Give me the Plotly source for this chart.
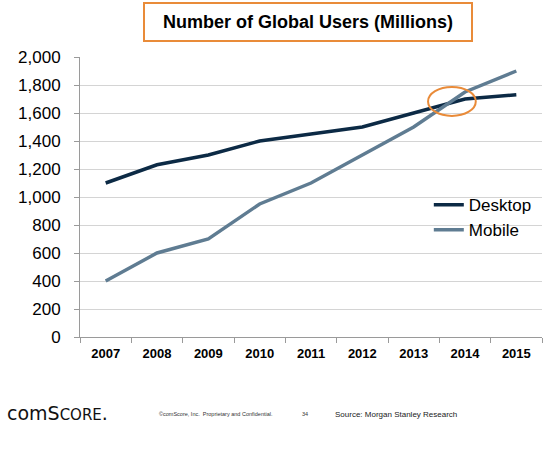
import plotly.graph_objects as go

years = ["2007", "2008", "2009", "2010", "2011", "2012", "2013", "2014", "2015"]
desktop = [1100, 1230, 1300, 1400, 1450, 1500, 1600, 1700, 1730]
mobile = [400, 600, 700, 950, 1100, 1300, 1500, 1750, 1900]
y_ticks = [0, 200, 400, 600, 800, 1000, 1200, 1400, 1600, 1800, 2000]

fig = go.Figure()
fig.add_trace(go.Scatter(x=years, y=desktop, name="Desktop", mode="lines",
                         line=dict(color="#0c2a45", width=3.5)))
fig.add_trace(go.Scatter(x=years, y=mobile, name="Mobile", mode="lines",
                         line=dict(color="#5f7c92", width=3.5)))

# highlight crossover
fig.add_shape(type="circle", xref="x", yref="y", x0=6.28, x1=7.21, y0=1579, y1=1786,
              line=dict(color="#E98B39", width=2))

fig.update_layout(
    width=550, height=468,
    margin=dict(l=80, r=8, t=57, b=131),
    paper_bgcolor="white", plot_bgcolor="white",
    font=dict(family="Liberation Sans, Arial, sans-serif", color="black"),
    showlegend=True,
    legend=dict(x=0.755, y=0.535, xanchor="left", yanchor="top",
                font=dict(size=17, color="black"), bgcolor="rgba(0,0,0,0)",
                tracegroupgap=0, itemwidth=30),
    xaxis=dict(type="category", showgrid=False, showline=True, linecolor="#9a9a9a",
               linewidth=1, ticks="outside", tickson="boundaries", ticklen=5,
               tickcolor="#9a9a9a", tickfont=dict(size=13, color="black", weight="bold"),
               ticklabelstandoff=4, range=[-0.5, 8.5]),
    yaxis=dict(range=[0, 2000], tickvals=y_ticks, tickformat=",d",
               showgrid=True, gridcolor="#d4d4d4", gridwidth=1,
               showline=True, linecolor="#9a9a9a", linewidth=1,
               ticks="outside", ticklen=5, tickcolor="#9a9a9a",
               tickfont=dict(size=17, color="black"), ticklabelstandoff=10,
               zeroline=False),
)

# title box
fig.add_annotation(xref="paper", yref="paper", x=(308 - 80) / 462, y=1 + 35 / 280,
                   xanchor="center", yanchor="middle",
                   text="<b>Number of Global Users (Millions)</b>", showarrow=False,
                   font=dict(size=18, color="black"),
                   bgcolor="white", bordercolor="#E98B39", borderwidth=2,
                   width=324, height=34, borderpad=1)

# footer
fig.add_annotation(xref="paper", yref="paper", x=(5 - 80) / 462, y=(337 - 413) / 280,
                   xanchor="left", yanchor="middle", showarrow=False,
                   text="comS<span style='font-size:15px'>CORE</span>.",
                   font=dict(size=19, color="#111111", family="DejaVu Sans"))
fig.add_annotation(xref="paper", yref="paper", x=(157 - 80) / 462, y=(337 - 414) / 280,
                   xanchor="left", yanchor="middle", showarrow=False,
                   text="©comScore, Inc.  Proprietary and Confidential.",
                   font=dict(size=5.5, color="#333333"))
fig.add_annotation(xref="paper", yref="paper", x=(305 - 80) / 462, y=(337 - 414) / 280,
                   xanchor="center", yanchor="middle", showarrow=False,
                   text="34", font=dict(size=5.5, color="#333333"))
fig.add_annotation(xref="paper", yref="paper", x=(333 - 80) / 462, y=(337 - 414) / 280,
                   xanchor="left", yanchor="middle", showarrow=False,
                   text="Source: Morgan Stanley Research",
                   font=dict(size=8, color="#222222"))

fig.write_html("out.html")
